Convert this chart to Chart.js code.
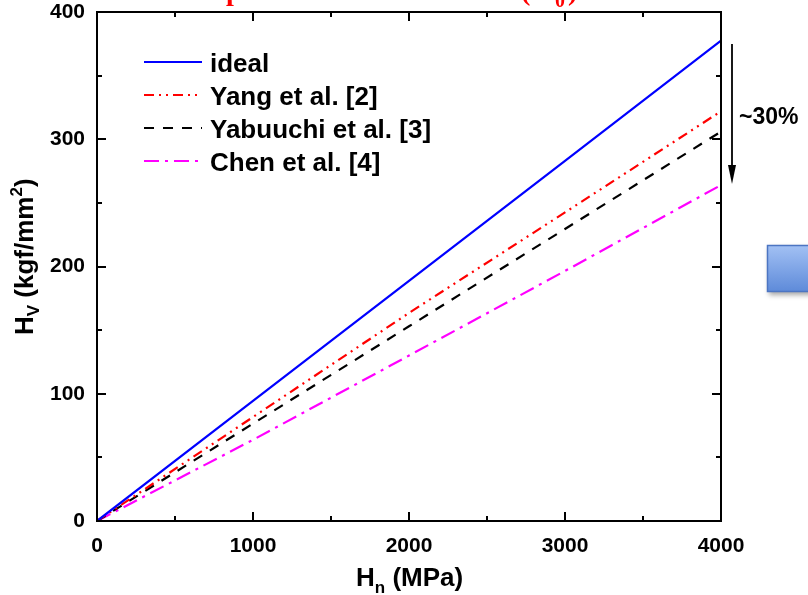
<!DOCTYPE html>
<html>
<head>
<meta charset="utf-8">
<script src="https://cdn.jsdelivr.net/npm/chart.js@4.4.1/dist/chart.umd.min.js"></script>
<style>
  html, body { margin: 0; padding: 0; background: #ffffff; }
  #wrap { width: 808px; height: 595px; }
</style>
</head>
<body>
<div id="wrap"><canvas id="c" width="808" height="595"></canvas></div>
<script>
// Nanoindentation hardness H_n (MPa) against Vickers hardness H_V (kgf/mm^2)
const hnValues = [0, 1000, 2000, 3000, 4000];
const idealHv = [0, 94.4, 188.7, 283, 377.5];
const yangHv = [0, 81.7, 163.5, 242.5, 322];
const yabuuchiHv = [0, 76.5, 153, 229.5, 306];
const chenHv = [0, 63.8, 130, 196.5, 264];

const seriesNames = ['ideal', 'Yang et al. [2]', 'Yabuuchi et al. [3]', 'Chen et al. [4]'];
const xTickStep = 1000;
const yTickStep = 100;

const FONT = '"Liberation Sans", Arial, sans-serif';
const SERIF = '"Liberation Serif", "Times New Roman", serif';

function pairs(xs, ys) { return xs.map((x, i) => ({ x: x, y: ys[i] })); }

// draw a run of text pieces with sub/superscripts, starting at (x, y) baseline
function drawRich(ctx, parts, x, y) {
  let cx = x;
  parts.forEach(p => {
    ctx.font = 'bold ' + p.size + 'px ' + FONT;
    ctx.fillText(p.t, cx, y + (p.dy || 0));
    cx += ctx.measureText(p.t).width;
  });
}

const framePlugin = {
  id: 'frame',
  afterDraw(chart) {
    const ctx = chart.ctx;
    const a = chart.chartArea;
    const xs = chart.scales.x, ys = chart.scales.y;
    ctx.save();

    // axis box
    ctx.strokeStyle = '#000';
    ctx.lineWidth = 2;
    ctx.strokeRect(a.left, a.top, a.right - a.left, a.bottom - a.top);

    // inward ticks on all four sides, majors and minors
    const major = 9, minor = 5;
    ctx.beginPath();
    for (let v = xs.min; v <= xs.max + 1e-6; v += xTickStep / 2) {
      const px = Math.round(xs.getPixelForValue(v));
      const len = (Math.abs(v % xTickStep) < 1e-6) ? major : minor;
      ctx.moveTo(px, a.bottom); ctx.lineTo(px, a.bottom - len);
      ctx.moveTo(px, a.top); ctx.lineTo(px, a.top + len);
    }
    for (let v = ys.min; v <= ys.max + 1e-6; v += yTickStep / 2) {
      const py = Math.round(ys.getPixelForValue(v));
      const len = (Math.abs(v % yTickStep) < 1e-6) ? major : minor;
      ctx.moveTo(a.left, py); ctx.lineTo(a.left + len, py);
      ctx.moveTo(a.right, py); ctx.lineTo(a.right - len, py);
    }
    ctx.stroke();

    // legend
    const rowsY = [62, 95, 128, 161];
    chart.data.datasets.forEach((ds, i) => {
      const y = rowsY[i];
      ctx.beginPath();
      ctx.strokeStyle = ds.borderColor;
      ctx.lineWidth = 2;
      ctx.setLineDash(ds.borderDash || []);
      ctx.moveTo(144, y); ctx.lineTo(202, y);
      ctx.stroke();
      ctx.setLineDash([]);
      ctx.fillStyle = '#000';
      ctx.font = 'bold 26px ' + FONT;
      ctx.textBaseline = 'alphabetic';
      ctx.textAlign = 'left';
      ctx.fillText(ds.label, 210, y + 9.5);
    });

    // axis titles
    ctx.fillStyle = '#000';
    ctx.textAlign = 'left';
    ctx.textBaseline = 'alphabetic';
    drawRich(ctx, [
      { t: 'H', size: 26 },
      { t: 'n', size: 17, dy: 7 },
      { t: ' (MPa)', size: 26 }
    ], 356, 586);

    ctx.save();
    ctx.translate(33, 335);
    ctx.rotate(-Math.PI / 2);
    drawRich(ctx, [
      { t: 'H', size: 26 },
      { t: 'V', size: 17, dy: 6 },
      { t: ' (kgf/mm', size: 26 },
      { t: '2', size: 17, dy: -11 },
      { t: ')', size: 26 }
    ], 0, 0);
    ctx.restore();

    // downward arrow with the ~30% note
    ctx.strokeStyle = '#000';
    ctx.fillStyle = '#000';
    ctx.lineWidth = 1.8;
    ctx.beginPath();
    ctx.moveTo(732, 44); ctx.lineTo(732, 170);
    ctx.stroke();
    ctx.beginPath();
    ctx.moveTo(728, 165); ctx.lineTo(736, 165); ctx.lineTo(732, 184);
    ctx.closePath();
    ctx.fill();
    ctx.font = 'bold 23px ' + FONT;
    ctx.textBaseline = 'middle';
    ctx.fillText('~30%', 739, 118);

    // red heading running above the frame
    ctx.fillStyle = '#ff0000';
    ctx.textBaseline = 'alphabetic';
    ctx.font = 'bold 28px ' + SERIF;
    ctx.fillText('p', 226, 0);
    ctx.fillText('(', 521, 0);
    ctx.fillText(')', 568, 0);
    ctx.font = 'bold 20px ' + SERIF;
    ctx.fillText('0', 555, 7);

    // blue box at the right edge
    ctx.save();
    ctx.shadowColor = 'rgba(0,0,0,0.35)';
    ctx.shadowBlur = 5;
    ctx.shadowOffsetX = 2;
    ctx.shadowOffsetY = 3;
    const g = ctx.createLinearGradient(0, 245, 0, 292);
    g.addColorStop(0, '#a3c1f4');
    g.addColorStop(1, '#5d8ad9');
    ctx.fillStyle = g;
    ctx.fillRect(767, 245, 50, 47);
    ctx.restore();
    ctx.strokeStyle = '#4c75c2';
    ctx.lineWidth = 1.5;
    ctx.strokeRect(767.5, 245.5, 50, 46);

    ctx.restore();
  }
};

const tickFont = { family: FONT, size: 21, weight: 'bold' };

const chart = new Chart(document.getElementById('c'), {
  type: 'line',
  data: {
    datasets: [
      { label: seriesNames[0], data: pairs(hnValues, idealHv), borderColor: '#0000ff', borderWidth: 2.2, borderDash: [] },
      { label: seriesNames[1], data: pairs(hnValues, yangHv), borderColor: '#ff0000', borderWidth: 2.2, borderDash: [10, 5, 2, 5, 2, 5] },
      { label: seriesNames[2], data: pairs(hnValues, yabuuchiHv), borderColor: '#000000', borderWidth: 2.2, borderDash: [10, 9] },
      { label: seriesNames[3], data: pairs(hnValues, chenHv), borderColor: '#ff00ff', borderWidth: 2.2, borderDash: [15, 6, 3, 6] }
    ]
  },
  options: {
    responsive: false,
    animation: false,
    devicePixelRatio: 1,
    layout: { padding: { top: 12, right: 87, left: 0, bottom: 0 } },
    elements: { point: { radius: 0 }, line: { tension: 0 } },
    plugins: { legend: { display: false }, tooltip: { enabled: false } },
    scales: {
      x: {
        type: 'linear', min: 0, max: 4000,
        grid: { display: false, drawTicks: false },
        border: { display: false },
        ticks: { stepSize: xTickStep, padding: 13, color: '#000', font: tickFont, maxRotation: 0,
                 callback: v => String(v) },
        afterFit(s) { s.height = 74; s.paddingLeft = 0; s.paddingRight = 0; }
      },
      y: {
        type: 'linear', min: 0, max: 400,
        grid: { display: false, drawTicks: false },
        border: { display: false },
        ticks: { stepSize: yTickStep, padding: 12, color: '#000', font: tickFont,
                 callback: v => String(v) },
        afterFit(s) { s.width = 97; s.paddingTop = 0; s.paddingBottom = 0; }
      }
    }
  },
  plugins: [framePlugin]
});
</script>
</body>
</html>
